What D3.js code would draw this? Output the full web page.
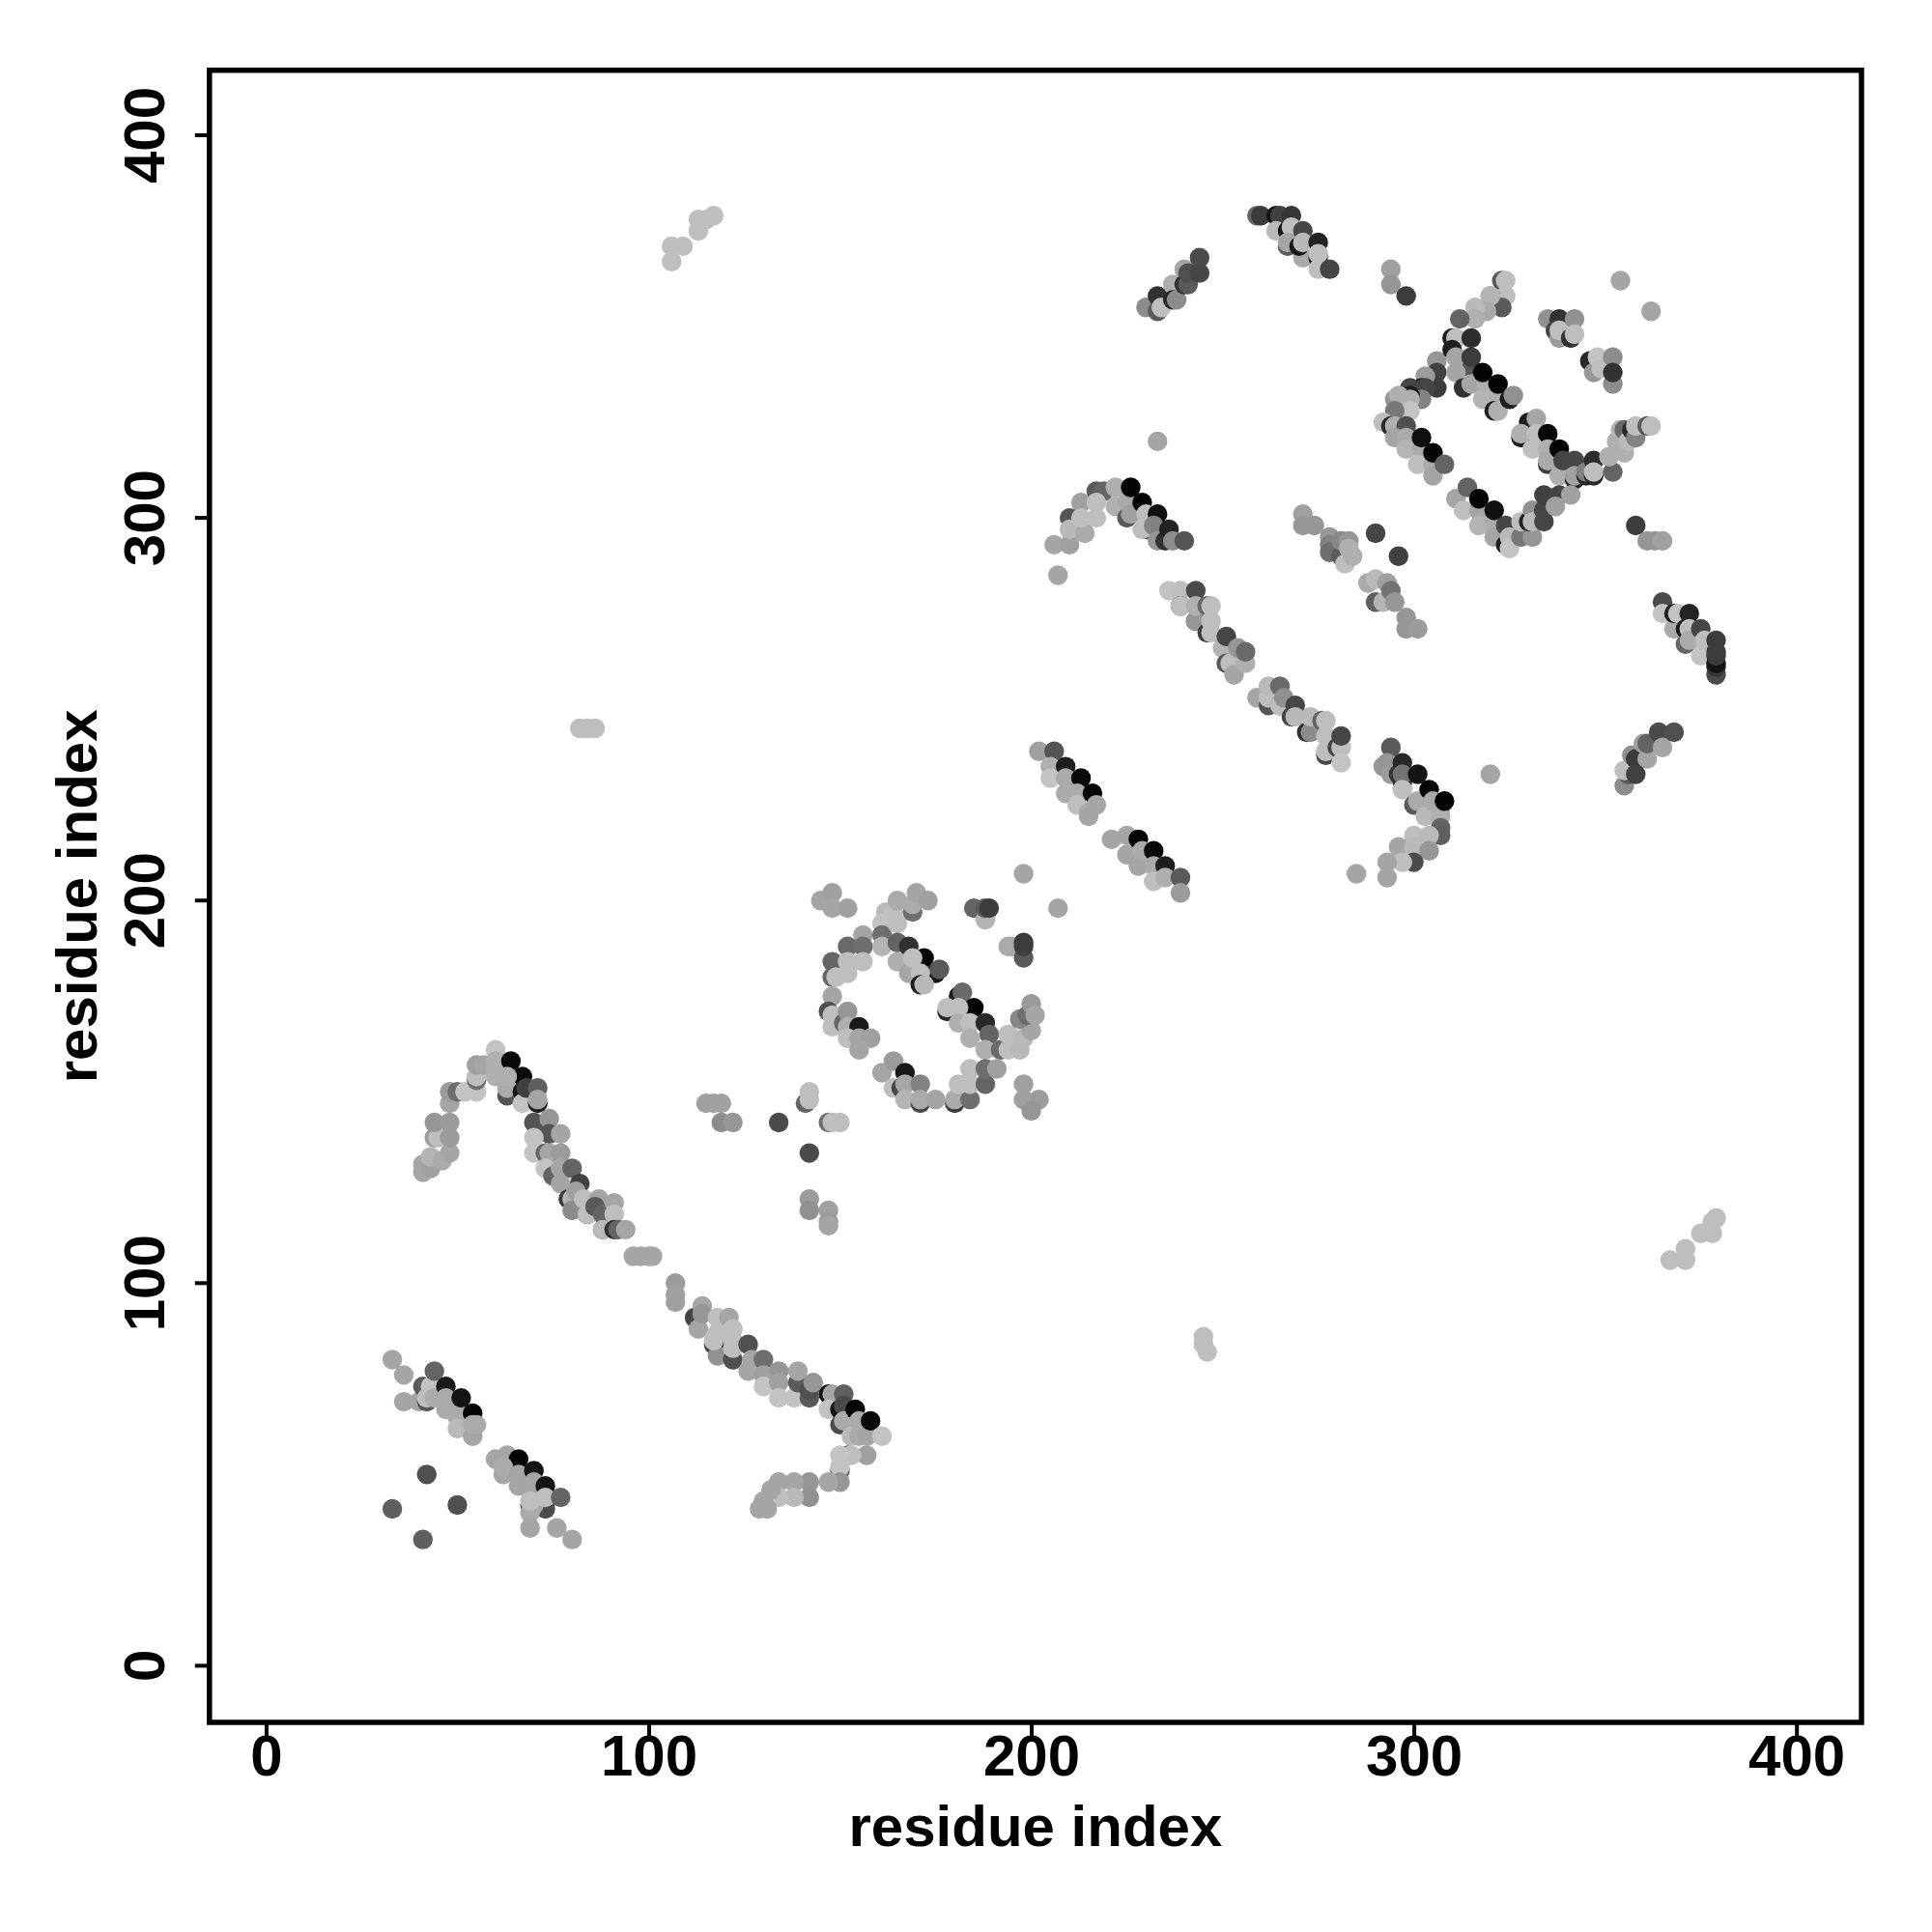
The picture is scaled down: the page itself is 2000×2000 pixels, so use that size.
<!DOCTYPE html>
<html><head><meta charset="utf-8">
<script src="https://cdn.jsdelivr.net/npm/d3@7"></script>
<style>html,body{margin:0;padding:0;background:#fff}svg{display:block}</style>
</head><body><svg id="c" width="2000" height="2000"></svg>
<script>
// each contact: [residue i, residue j, grey level]; array order is draw order
const tickValues = [0,100,200,300,400];
const xLabel = "residue index", yLabel = "residue index";
const lowerLeft = [[33,80,165],[36,76,165],[36,69,165],[40,69,165],[41,73,90],[42,69,85],[43,73,195],[42,70,190],[44,70,170],[44,77,100],[47,73,25],[47,70,170],[47,67,170],[50,67,170],[51,70,20],[50,65,170],[50,62,185],[54,66,5],[54,60,165],[55,63,170],[54,63,170],
 [42,50,80],[33,41,95],[50,42,80],[41,33,95],
 [60,54,165],[63,55,165],[66,54,5],[62,50,165],[62,52,170],[66,50,165],[66,47,165],[70,51,20],[70,48,165],[70,46,165],[73,47,20],[69,42,70],[73,41,75],[69,40,170],[70,42,170],[69,43,190],[73,44,190],[77,44,100],[69,36,165],[76,36,165],[80,33,165]];
const longHelixUp = [[41,129,165],[41,131,165],[43,130,160],[43,133,180],[46,132,170],[48,134,165],[44,138,155],[45,138,190],[48,138,155],[44,142,150],[48,142,155],[48,147,165],[48,150,155],[50,150,110],[52,150,195],[55,150,195],[55,153,110],[55,154,190],[55,157,160],[57,157,165],[60,161,195],[60,158,175],[60,156,175],[60,154,175]];
const longHelixDown = [[64,158,10],[67,154,10],[63,149,85],[63,151,170],[63,154,175],[67,150,20],[67,147,195],[68,151,65],[71,147,30],[71,151,95],[71,148,165],[72,140,60],[70,142,85],[74,143,150],[74,139,85],[77,139,165],[70,138,195],[70,134,195],[73,134,100],[74,134,165],[77,134,155],[73,130,195],[75,128,100],[77,130,165],[77,126,165],[80,130,100],[79,122,60],[82,126,65],[82,122,40],[84,118,30],[80,122,180],[81,124,160],[80,119,140],[83,122,190],[84,118,190],[87,122,165],[86,120,90],[88,114,90],[88,118,100],[88,114,185],[91,121,165],[91,118,190],[91,114,50],[92,114,100],[94,114,165],
 [96,107,165],[98,107,165],[100,107,165],[101,107,165],[107,100,155],[107,97,160],[107,95,160]];
const midHelix = [[112,91,70],[117,84,70],[121,84,40],[113,88,165],[114,94,165],[114,92,150],[118,81,145],[118,91,190],[118,87,190],[117,85,190],[122,80,80],[121,91,165],[122,88,190],[122,85,190],[122,83,190],[126,84,80],[126,77,165],[127,80,165],[130,80,110],[130,76,160],[130,73,195],[134,77,150],[134,74,160],[134,70,195],[138,70,195],[139,74,90],[139,77,165],[142,70,90],[142,72,80],[143,74,150],
 [147,71,20],[148,71,165],[147,67,195],[150,67,20],[151,71,95],[151,68,75],[150,63,75],[151,64,170],[154,67,5],[153,60,185],[155,64,170],[155,60,170],[157,60,165],[158,64,10],[161,60,195],[157,55,160],[152,55,110],[153,55,190],[150,55,195],[150,51,100],[150,52,195],[150,48,150],[147,48,165],[142,48,150],[142,44,145],[138,48,165],[138,44,185],[134,48,165],[134,44,190],[132,46,165],[130,43,165],[129,41,165],[131,41,165]];
const ringLeft = [[145,200,165],[148,202,160],[148,198,165],[152,198,160],[156,191,165],[152,188,105],[156,188,110],[156,184,190],[148,184,100],[152,184,190],[152,181,190],[148,180,100],[149,180,190],[148,175,165],[147,171,80],[148,170,190],[148,167,190],[151,168,100],[152,171,150],[152,167,175],[155,167,25],[152,164,190],[155,164,165],[158,164,160],[155,161,165]];
const ringTop = [[162,197,185],[161,194,195],[161,191,110],[161,188,180],[164,197,190],[165,194,190],[165,200,170],[169,197,110],[169,199,170],[170,202,165],[173,200,160],
 [165,189,100],[168,188,50],[165,184,175],[168,181,165],[172,185,5],[175,181,20],[176,182,90],[169,185,190],[171,181,190],[171,178,30],[172,178,185]];
const ringRight = [[181,175,30],[182,176,105],[185,172,5],[178,171,40],[178,172,190],[181,172,190],[181,168,175],[184,168,190],[188,168,40],[184,164,175],[189,165,100],[188,161,175],[192,161,105],[194,161,190],[197,161,185],[194,165,190],[198,164,185],[200,166,165],[197,169,135],[199,170,110],[200,173,155],[201,170,165]];
const ringBottom = [[161,155,165],[164,158,155],[167,155,25],[164,151,190],[166,151,70],[167,152,165],[167,148,180],[171,152,130],[171,147,70],[171,148,170],[175,148,165],[180,147,60],[180,148,170],[184,148,110],[181,152,190],[184,152,190],[188,152,100],[184,156,190],[188,156,110],[191,156,160],[198,152,160],[198,148,160],[202,148,155],[200,145,150]];
const scatterMid = [[198,207,165],[207,198,165],[185,198,100],[188,195,180],[188,198,90],[189,198,60],[194,188,170],[195,188,170],[198,185,90],[198,188,65],[198,189,60],
 [115,147,160],[117,147,160],[119,147,160],[119,142,140],[122,142,150],[134,142,75],[142,134,75],[141,147,100],[142,150,190],[142,148,190],[147,142,110],[148,142,190],[150,142,190],[142,122,155],[142,119,145],[147,119,160],[147,116,155],[147,115,165]];
const capA = [[206,293,165],[210,293,160],[207,285,165],[213,304,160],[210,300,85],[210,297,185],[214,296,170],[213,300,190],[217,307,90],[219,307,100],[217,304,190],[217,300,190],[222,308,175],[222,303,175],[225,304,170],[225,300,90],[226,301,160],[226,308,5],[229,304,5],[230,297,40],[229,297,190],[230,301,190],[233,301,15],[232,298,130],[233,294,150],[235,294,50],[236,297,35],[237,294,140],[240,294,85]];
const strandA = [[236,281,195],[239,281,190],[239,277,60],[239,277,190],[243,281,75],[243,273,35],[243,273,150],[243,277,175],[246,277,100],[247,277,190],[246,270,60],[247,273,190],[247,270,190],[250,266,180],[251,269,70],[251,262,85],[252,262,190],[253,259,165],[254,266,150],[256,262,175],[256,265,105]];
const strandB = [[259,253,165],[262,251,85],[262,253,190],[262,256,185],[265,251,85],[265,251,190],[265,256,105],[266,253,145],[268,248,70],[269,251,70],[269,248,185],[272,244,50],[273,244,140],[273,248,185],[276,247,100],[277,247,190],[277,238,70],[277,243,190],[277,239,190],[280,240,70],[281,240,190],[281,243,70],[281,236,195]];
const helixC = [[202,239,160],[206,239,85],[205,235,175],[205,232,195],[209,235,30],[209,232,170],[209,228,170],[213,232,10],[212,228,170],[212,225,190],[216,228,5],[215,223,170],[215,222,165],[217,225,165],
 [221,216,165],[225,217,165],[225,212,165],[228,216,5],[228,209,165],[229,213,170],[232,213,10],[232,209,170],[232,205,190],[235,209,30],[235,206,175],[239,206,90],[239,202,155]];
const hookD = [[294,240,90],[292,235,150],[293,236,150],[294,233,155],[296,233,50],[297,231,50],[297,236,40],[297,233,115],[301,233,20],[297,229,190],[300,225,90],[301,226,170],[304,229,5],[303,222,185],[305,226,170],[307,224,170],[307,222,175],[308,226,5],
 [307,219,100],[307,217,95],[300,217,190],[304,217,185],[296,214,165],[300,214,185],[304,213,150],[300,210,75],[297,210,190],[293,210,165],[293,206,165],[285,207,165],[320,233,165]];
const patchE = [[271,301,160],[271,298,150],[274,298,150],[278,295,150],[278,293,130],[278,291,110],[281,290,90],[281,294,135],[283,294,150],[282,288,190],[284,290,175],[283,292,175],
 [290,296,70],[296,290,65],[288,283,170],[290,278,95],[290,284,185],[292,278,180],[293,283,160],[294,281,115],[295,278,150],[298,274,150],[298,271,150],[301,271,155]];
const barrelF = [[294,365,160],[294,361,150],[298,358,60],[233,320,165],
 [306,341,150],[306,338,65],[306,334,60],[303,337,155],[302,334,35],[303,334,70],[299,334,70],[302,331,130],[299,332,30],[299,331,175],[295,331,150],[296,332,175],[299,328,195],[295,328,120],[292,325,190],[294,324,40],[295,324,175],[298,324,80],[295,321,165],[298,321,170],[298,318,180],[302,318,170],[301,314,190],[302,321,15],[305,314,170],[305,311,165],[305,317,5],[308,314,100],
 [311,305,165],[314,308,100],[313,302,190],[317,302,165],[317,298,180],[317,305,5],[321,299,170],[321,295,165],[321,302,15],[324,298,70],[324,293,30],[325,295,185],[325,292,195]];
const barrelG = [[323,362,90],[324,362,190],[323,357,30],[324,358,190],[323,355,90],[320,358,130],[320,358,180],[319,354,170],[316,355,185],[316,352,175],[312,352,100],[310,347,30],[311,347,190],[310,344,30],[311,342,165],[315,347,45],[315,339,85],[311,338,165],[315,342,60],[313,334,50],[315,335,165],[319,335,175],[318,331,180],[318,338,5],[322,331,175],[321,328,30],[322,328,175],[322,335,5],[325,331,30],[326,332,145]];
const barrelH = [[330,325,30],[332,326,165],[328,321,30],[328,322,175],[332,322,190],[331,318,190],[335,322,5],[335,318,175],[335,314,60],[335,315,170],[338,318,5],[338,311,175],[339,315,70],[342,315,70],[342,310,40],[342,311,160],[345,311,40],[345,312,130],[347,315,45],[347,311,40],[347,312,190],[352,312,100],[351,316,175],[355,317,175],[353,320,175],[354,323,180],[355,323,105],[356,320,185],[357,323,40],[358,321,130],[358,324,190],[361,324,90],[362,324,190],
 [328,295,120],[328,299,190],[331,295,150],[330,299,35],[331,302,145],[331,299,185],[334,302,25],[334,299,70],[334,302,70],[334,306,65],[338,306,70],[337,303,160],[341,306,160]];
const patchI = [[335,352,145],[338,352,50],[337,349,70],[338,347,155],[338,349,190],[341,347,50],[342,352,145],[342,348,190],[346,341,40],[347,338,150],[348,342,195],[349,339,190],[352,342,140],[352,335,140],[352,338,50],
 [354,362,165],[362,354,165],[358,298,60],[361,294,150],[363,294,150],[365,294,160]];
const capJ = [[365,278,75],[365,275,195],[368,271,170],[368,275,30],[369,275,195],[372,275,35],[371,267,100],[371,271,25],[372,271,190],[372,268,170],[375,271,70],[375,264,195],[376,268,190],[379,259,75],[379,261,55],[379,265,65],[379,262,20],[379,264,60],[379,268,60]];
const capK = [[355,230,140],[356,233,90],[355,234,190],[357,238,145],[358,237,60],[360,241,160],[361,237,165],[361,241,100],[358,233,65],[364,244,75],[365,240,165],[368,244,80]];
const topL = [[230,355,140],[233,354,90],[233,358,50],[234,355,190],[237,361,175],[237,357,40],[238,357,140],[240,365,165],[240,361,50],[241,361,90],[241,364,80],[244,364,70],[244,368,75]];
const topM = [[259,379,100],[260,379,60],[264,379,20],[265,379,65],[268,379,55],[264,375,185],[267,375,25],[268,376,190],[267,371,90],[267,372,165],[271,375,70],[271,368,170],[270,371,25],[271,372,185],[275,368,25],[275,365,190],[275,372,35],[275,369,190],[278,365,70]];
const faint = [[106,367,190],[106,371,190],[109,371,190],[113,375,190],[113,378,190],[115,378,190],[117,379,190],[82,245,190],[84,245,190],[86,245,190],[245,86,190],[245,84,190],[246,82,190],[367,106,190],[371,106,190],[371,109,190],[375,113,190],[378,113,190],[379,117,190],[378,116,190]];

const groups = [scatterMid, faint, lowerLeft, longHelixUp, longHelixDown, midHelix, ringLeft, ringTop, ringRight, ringBottom, capA, strandA, strandB, helixC, hookD, patchE, barrelF, barrelG, barrelH, patchI, capJ, capK, topL, topM];

const left=216.8,right=1927,top_=72.7,bottom=1783;
const x=d3.scaleLinear().domain([-14.8,417]).range([left,right]);
const y=d3.scaleLinear().domain([-14.8,417]).range([bottom,top_]);
const shade=v=>d3.rgb(v,v,v).formatHex();
const svg=d3.select("#c");
const font='"Liberation Sans",Arial,sans-serif';

svg.append("g").selectAll("circle").data(groups.flat()).join("circle")
  .attr("cx",d=>x(d[0])).attr("cy",d=>y(d[1])).attr("r",10.2).attr("fill",d=>shade(d[2]));

svg.append("rect").attr("x",left).attr("y",top_).attr("width",right-left).attr("height",bottom-top_)
  .attr("fill","none").attr("stroke","#000").attr("stroke-width",5.5);

const ax=svg.append("g").attr("transform",`translate(0,${bottom})`)
  .call(d3.axisBottom(x).tickValues(tickValues).tickSize(15).tickPadding(-3).tickFormat(d3.format("d")));
const ay=svg.append("g").attr("transform",`translate(${left},0)`)
  .call(d3.axisLeft(y).tickValues(tickValues).tickSize(15).tickFormat(d3.format("d")));
[ax,ay].forEach(a=>{a.select(".domain").remove();a.selectAll("line").attr("stroke","#000").attr("stroke-width",4);
  a.selectAll("text").attr("font-family",font).attr("font-weight","bold").attr("font-size",60).attr("fill","#000");});
ay.selectAll("text").attr("text-anchor","middle").attr("dy",0).attr("x",0)
  .attr("transform",function(d){return `translate(-47,${y(d)}) rotate(-90)`;}).attr("y",0);
ay.selectAll(".tick").attr("transform","translate(0,0)");
ay.selectAll(".tick line").attr("transform",d=>`translate(0,${y(d)})`);

svg.append("text").text(xLabel).attr("x",(left+right)/2).attr("y",1911).attr("text-anchor","middle")
  .attr("font-family",font).attr("font-weight","bold").attr("font-size",60);
svg.append("text").text(yLabel).attr("transform",`translate(100,${(top_+bottom)/2}) rotate(-90)`).attr("text-anchor","middle")
  .attr("font-family",font).attr("font-weight","bold").attr("font-size",60);
</script></body></html>
